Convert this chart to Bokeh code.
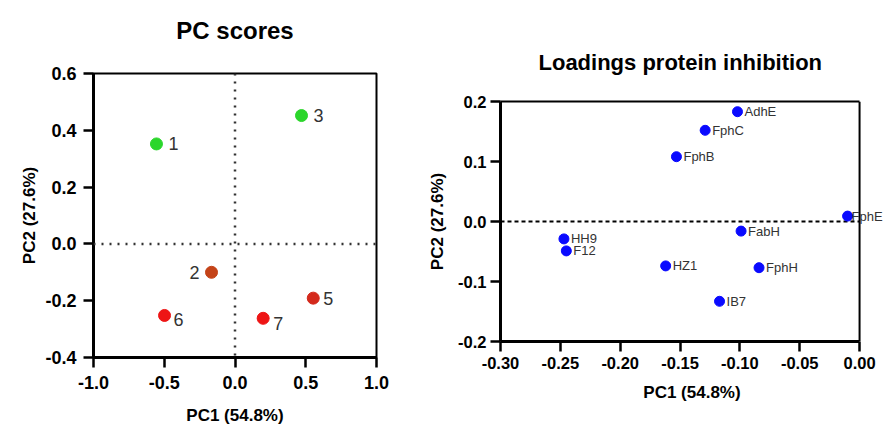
from bokeh.plotting import figure
from bokeh.layouts import row, column
from bokeh.models import (Range1d, FixedTicker, ColumnDataSource, Label, Span,
                          PrintfTickFormatter, LinearAxis)
from bokeh.embed import file_html
from bokeh.resources import INLINE

# ---- data: PC scores ----
score_ids = ["1", "2", "3", "5", "6", "7"]
score_pc1 = [-0.555, -0.166, 0.47, 0.553, -0.498, 0.199]
score_pc2 = [0.352, -0.100, 0.452, -0.191, -0.252, -0.262]
score_colors = ["#2bd62b", "#c44318", "#2bd62b", "#d42a1c", "#ee1515", "#ee1515"]

# ---- data: loadings ----
load_names = ["AdhE", "FphC", "FphB", "FphE", "FabH", "HH9", "F12", "HZ1", "FphH", "IB7"]
load_pc1 = [-0.102, -0.129, -0.153, -0.010, -0.099, -0.247, -0.245, -0.162, -0.084, -0.117]
load_pc2 = [0.183, 0.152, 0.108, 0.009, -0.016, -0.029, -0.049, -0.074, -0.077, -0.133]

left_xticks = [-1.0, -0.5, 0.0, 0.5, 1.0]
left_yticks = [-0.4, -0.2, 0.0, 0.2, 0.4, 0.6]
right_xticks = [-0.30, -0.25, -0.20, -0.15, -0.10, -0.05, 0.00]
right_yticks = [-0.2, -0.1, 0.0, 0.1, 0.2]

FONT = "Liberation Sans"


def style_axes(p, tick_size, label_size, tick_standoff_x, tick_standoff_y,
               label_standoff_x, label_standoff_y):
    p.outline_line_color = "black"
    p.outline_line_width = 2
    p.xgrid.visible = False
    p.ygrid.visible = False
    p.background_fill_color = "white"
    p.border_fill_color = "white"
    for ax in (p.xaxis[0], p.yaxis[0]):
        ax.axis_line_width = 3
        ax.axis_line_color = "black"
        ax.major_tick_line_width = 2.5
        ax.major_tick_line_color = "black"
        ax.major_tick_out = 10
        ax.major_tick_in = 0
        ax.minor_tick_line_color = None
        ax.major_label_text_font = FONT
        ax.major_label_text_font_style = "bold"
        ax.major_label_text_font_size = tick_size
        ax.major_label_text_color = "black"
        ax.axis_label_text_font = FONT
        ax.axis_label_text_font_style = "bold"
        ax.axis_label_text_font_size = label_size
        ax.axis_label_text_color = "black"
    p.xaxis[0].major_label_standoff = tick_standoff_x
    p.yaxis[0].major_label_standoff = tick_standoff_y
    p.xaxis[0].axis_label_standoff = label_standoff_x
    p.yaxis[0].axis_label_standoff = label_standoff_y


def style_title(p, text, size, standoff, align="center", offset=0):
    p.title.text = text
    p.title.align = align
    p.title.offset = offset
    p.title.text_font = FONT
    p.title.text_font_size = size
    p.title.text_font_style = "bold"
    p.title.text_color = "black"
    p.title.standoff = standoff


# ---------------- left: PC scores ----------------
p1 = figure(width=420, height=428, output_backend="svg", toolbar_location=None,
            x_range=Range1d(-1, 1), y_range=Range1d(-0.4, 0.6),
            min_border_left=93, min_border_right=44, min_border_top=73, min_border_bottom=71,
            x_axis_label="PC1 (54.8%)", y_axis_label="PC2 (27.6%)")
p1.xaxis[0].ticker = FixedTicker(ticks=left_xticks)
p1.yaxis[0].ticker = FixedTicker(ticks=left_yticks)
p1.xaxis[0].formatter = PrintfTickFormatter(format="%.1f")
p1.yaxis[0].formatter = PrintfTickFormatter(format="%.1f")
style_axes(p1, "18px", "17px", 8, 7, 14, 3)
# an invisible axis on top works as a spacer that lifts the title above the box
spacer_axis = LinearAxis(axis_line_color=None, major_tick_line_color=None,
                         minor_tick_line_color=None, major_tick_out=30, major_tick_in=0,
                         major_label_text_font_size="0px", major_label_text_color=None)
p1.add_layout(spacer_axis, "above")
style_title(p1, "PC scores", "24px", 0)

p1.add_layout(Span(location=0, dimension="height", line_color="#333333",
                   line_width=2.5, line_dash="2 6"))
p1.add_layout(Span(location=0, dimension="width", line_color="#333333",
                   line_width=2.5, line_dash="2 6"))

src1 = ColumnDataSource(dict(x=score_pc1, y=score_pc2, c=score_colors, t=score_ids))
p1.scatter("x", "y", source=src1, size=12, fill_color="c", line_color="c")

# label placement (screen offsets) per point
offs = {"1": (12, 0, "left"), "2": (-12, 0, "right"), "3": (12, 0, "left"),
        "5": (10, 0, "left"), "6": (9, -4, "left"), "7": (10, -5, "left")}
for i, k in enumerate(score_ids):
    p1.add_layout(Label(x=score_pc1[i], y=score_pc2[i], text=k,
                        x_offset=offs[k][0], y_offset=offs[k][1],
                        text_align=offs[k][2], text_baseline="middle",
                        text_font=FONT, text_font_size="18px",
                        text_color="#333333"))

# ---------------- right: loadings ----------------
# x range reaches a bit past 0 so the FphE label can run past the box edge;
# the box itself is drawn at x = 0.
p2 = figure(width=463, height=428, output_backend="svg", toolbar_location=None,
            x_range=Range1d(-0.30, 0.02), y_range=Range1d(-0.2, 0.2),
            min_border_left=80, min_border_right=0, min_border_top=101, min_border_bottom=87,
            x_axis_label="PC1 (54.8%)", y_axis_label="PC2 (27.6%)")
p2.xaxis[0].ticker = FixedTicker(ticks=right_xticks)
p2.yaxis[0].ticker = FixedTicker(ticks=right_yticks)
p2.xaxis[0].formatter = PrintfTickFormatter(format="%.2f")
p2.yaxis[0].formatter = PrintfTickFormatter(format="%.1f")
style_axes(p2, "16.5px", "17px", 5, 4, 11, 8)
p2.outline_line_color = None
p2.xaxis[0].bounds = (right_xticks[0], right_xticks[-1])
top_axis = LinearAxis(bounds=(right_xticks[0], right_xticks[-1]), axis_line_width=2,
                      axis_line_color="black", major_tick_line_color=None,
                      minor_tick_line_color=None, major_label_text_font_size="0px",
                      major_label_text_color=None)
p2.add_layout(top_axis, "above")
p2.add_layout(Span(location=right_xticks[-1], dimension="height", line_color="black",
                   line_width=2))
style_title(p2, "Loadings protein inhibition", "22px", 42, align="left", offset=38)

p2.segment(x0=[right_xticks[0]], y0=[0], x1=[right_xticks[-1]], y1=[0],
           line_color="black", line_width=2, line_dash="4 3")

src2 = ColumnDataSource(dict(x=load_pc1, y=load_pc2, t=load_names))
p2.scatter("x", "y", source=src2, size=10, fill_color="#0a0aff", line_color="#0a0aff")
for i, name in enumerate(load_names):
    p2.add_layout(Label(x=load_pc1[i], y=load_pc2[i], text=name,
                        x_offset=4 if name == "FphE" else 7,
                        text_align="left", text_baseline="middle",
                        text_font=FONT, text_font_size="13px", text_color="#333333"))

layout = row(column(p1), column(p2))
open("out.html", "w").write(file_html(layout, INLINE))
